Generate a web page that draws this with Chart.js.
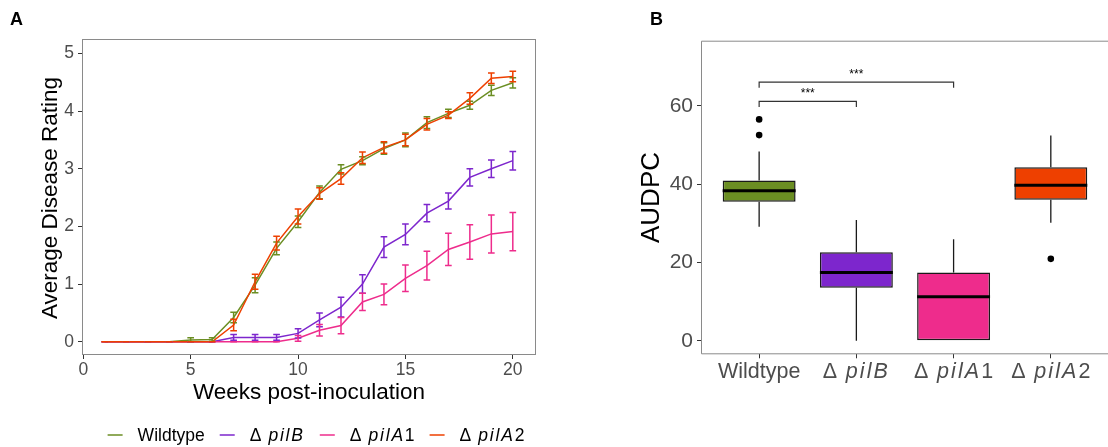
<!DOCTYPE html>
<html>
<head>
<meta charset="utf-8">
<script src="https://cdn.jsdelivr.net/npm/chart.js@4.4.0/dist/chart.umd.min.js"></script>
<style>
  body { margin: 0; background: #fff; width: 1108px; height: 447px; overflow: hidden; position: relative; }
  #wrapA { position: absolute; left: 0; top: 0; width: 560px; height: 447px; }
  #wrapB { position: absolute; left: 620px; top: 0; width: 488px; height: 447px; }
</style>
</head>
<body>
<div id="wrapA"><canvas id="chartA"></canvas></div>
<div id="wrapB"><canvas id="chartB"></canvas></div>
<script>
const FONT = '"Liberation Sans", Arial, Helvetica, sans-serif';

// ---- Panel A data: weekly mean disease rating +/- SE ----
const weeks = [1, 2, 3, 4, 5, 6, 7, 8, 9, 10, 11, 12, 13, 14, 15, 16, 17, 18, 19, 20];
const seriesNames = ['Wildtype', 'ΔpilB', 'ΔpilA1', 'ΔpilA2'];
const seriesColors = ['#6B8E23', '#7D26CD', '#EE2C8C', '#EE4000'];

const wildtypeMean = [0, 0, 0, 0, 0.03, 0.04, 0.42, 0.98, 1.62, 2.08, 2.59, 2.99, 3.14, 3.35, 3.50, 3.80, 3.96, 4.10, 4.36, 4.49];
const wildtypeSe   = [0, 0, 0, 0, 0.04, 0.03, 0.09, 0.13, 0.11, 0.10, 0.11, 0.08, 0.07, 0.10, 0.12, 0.10, 0.07, 0.07, 0.09, 0.09];
const pilBMean     = [0, 0, 0, 0, 0, 0, 0.075, 0.075, 0.075, 0.145, 0.38, 0.60, 1.00, 1.64, 1.86, 2.23, 2.44, 2.85, 3.00, 3.14];
const pilBSe       = [0, 0, 0, 0, 0, 0, 0.05, 0.05, 0.05, 0.08, 0.12, 0.17, 0.16, 0.18, 0.18, 0.15, 0.14, 0.15, 0.15, 0.16];
const pilA1Mean    = [0, 0, 0, 0, 0, 0, 0, 0, 0, 0.06, 0.20, 0.28, 0.69, 0.82, 1.10, 1.32, 1.60, 1.73, 1.87, 1.91];
const pilA1Se      = [0, 0, 0, 0, 0, 0, 0, 0, 0, 0.05, 0.10, 0.14, 0.15, 0.18, 0.23, 0.25, 0.28, 0.30, 0.33, 0.33];
const pilA2Mean    = [0, 0, 0, 0, 0, 0, 0.29, 1.04, 1.71, 2.17, 2.57, 2.83, 3.19, 3.37, 3.50, 3.77, 3.93, 4.22, 4.57, 4.60];
const pilA2Se      = [0, 0, 0, 0, 0, 0, 0.10, 0.13, 0.12, 0.13, 0.10, 0.10, 0.10, 0.10, 0.10, 0.10, 0.06, 0.10, 0.09, 0.09];

const xTicksA = [0, 5, 10, 15, 20];
const yTicksA = [0, 1, 2, 3, 4, 5];

// ---- Panel B data: AUDPC box plot summary ----
const boxLow      = [29.1, 0, 0, 30.1];
const boxQ1       = [35.5, 13.5, 0, 36.0];
const boxMedian   = [38.3, 17.4, 11.2, 39.7];
const boxQ3       = [40.9, 22.6, 17.4, 44.3];
const boxHigh     = [48.3, 30.8, 25.9, 52.4];
const boxOutliers = [[56.5, 52.5], [], [], [20.9]];
const yTicksB = [0, 20, 40, 60];

// significance brackets (group positions are 1-based)
const bracketFrom   = [1, 1];
const bracketTo     = [2, 3];
const bracketY      = [61.1, 66.0];
const bracketLabels = ['***', '***'];

const meansA = [wildtypeMean, pilBMean, pilA1Mean, pilA2Mean];
const seA = [wildtypeSe, pilBSe, pilA1Se, pilA2Se];

// split "ΔpilA1" into upright delta, italic gene name, upright number
function labelParts(name) {
  if (name[0] !== 'Δ') return [[name, false]];
  const m = name.slice(1).match(/^([A-Za-z]+)(\d*)$/);
  const parts = [['Δ', false], [' ', 'gap'], [m[1], true]];
  if (m[2]) parts.push([m[2], false]);
  return parts;
}

function setPartFont(ctx, part, size) {
  ctx.font = (part[1] === true ? 'italic ' : '') + size + 'px ' + FONT;
  ctx.letterSpacing = part[1] === true ? (size * 0.1).toFixed(1) + 'px' : '0px';
}

function partWidth(ctx, part, size) {
  if (part[1] === 'gap') return size * 0.4;
  setPartFont(ctx, part, size);
  return ctx.measureText(part[0]).width;
}

function richWidth(ctx, parts, size) {
  return parts.reduce((s, p) => s + partWidth(ctx, p, size), 0);
}

function drawRich(ctx, parts, x, y, size, align) {
  const total = richWidth(ctx, parts, size);
  let cx = align === 'center' ? x - total / 2 : x;
  ctx.textAlign = 'left';
  parts.forEach(p => {
    const w = partWidth(ctx, p, size);
    if (p[1] !== 'gap') {
      setPartFont(ctx, p, size);
      ctx.fillText(p[0], cx, y);
    }
    cx += w;
  });
  ctx.letterSpacing = '0px';
  return total;
}

// Panel A extras: error bars, frame, titles, legend
const panelAPlugin = {
  id: 'panelA',
  afterDatasetsDraw(chart) {
    const ctx = chart.ctx;
    const xs = chart.scales.x, ys = chart.scales.y;
    const capHalf = 0.155;
    ctx.save();
    ctx.lineWidth = 1.5;
    seriesNames.forEach((name, i) => {
      ctx.strokeStyle = seriesColors[i];
      weeks.forEach((w, j) => {
        const m = meansA[i][j], e = seA[i][j];
        const x = xs.getPixelForValue(w);
        const x0 = xs.getPixelForValue(w - capHalf), x1 = xs.getPixelForValue(w + capHalf);
        const yLo = ys.getPixelForValue(m - e), yHi = ys.getPixelForValue(m + e);
        ctx.beginPath();
        ctx.moveTo(x, yLo); ctx.lineTo(x, yHi);
        ctx.moveTo(x0, yLo); ctx.lineTo(x1, yLo);
        ctx.moveTo(x0, yHi); ctx.lineTo(x1, yHi);
        ctx.stroke();
      });
    });
    ctx.restore();
  },
  afterDraw(chart) {
    const ctx = chart.ctx;
    const a = chart.chartArea;
    ctx.save();
    // panel border
    ctx.strokeStyle = '#8a8a8a';
    ctx.lineWidth = 1;
    ctx.strokeRect(a.left + 0.5, a.top + 0.5, a.right - a.left - 1, a.bottom - a.top - 1);

    ctx.fillStyle = '#000';
    // panel tag
    ctx.font = 'bold 18px ' + FONT;
    ctx.textAlign = 'left';
    ctx.textBaseline = 'alphabetic';
    ctx.fillText('A', 10, 25);

    // axis titles
    ctx.font = '22.5px ' + FONT;
    ctx.textAlign = 'center';
    ctx.fillText('Weeks post-inoculation', (a.left + a.right) / 2, 399);
    ctx.save();
    ctx.translate(57, (a.top + a.bottom) / 2 + 1);
    ctx.rotate(-Math.PI / 2);
    ctx.fillText('Average Disease Rating', 0, 0);
    ctx.restore();

    // legend
    const size = 17.5, swatch = 15, gap = 15;
    const items = seriesNames.map(n => labelParts(n));
    const widths = items.map(p => richWidth(ctx, p, size));
    const total = widths.reduce((s, w) => s + swatch + gap + w, 0) + gap * (items.length - 1);
    let lx = 316 - total / 2;
    const ly = 435;
    ctx.textBaseline = 'middle';
    items.forEach((parts, i) => {
      ctx.strokeStyle = seriesColors[i];
      ctx.lineWidth = 1.5;
      ctx.beginPath();
      ctx.moveTo(lx, ly); ctx.lineTo(lx + swatch, ly);
      ctx.stroke();
      ctx.fillStyle = '#000';
      drawRich(ctx, parts, lx + swatch + gap, ly + 1, size, 'left');
      lx += swatch + gap + widths[i] + gap;
    });
    ctx.restore();
  }
};

Chart.defaults.font.family = FONT;

new Chart(document.getElementById('chartA'), {
  type: 'line',
  data: {
    datasets: seriesNames.map((name, i) => ({
      label: name,
      data: weeks.map((w, j) => ({ x: w, y: meansA[i][j] })),
      borderColor: seriesColors[i],
      backgroundColor: seriesColors[i],
      borderWidth: 1.5,
      pointRadius: 0,
      tension: 0,
      order: seriesNames.length - i
    }))
  },
  options: {
    responsive: true,
    maintainAspectRatio: false,
    animation: false,
    layout: { padding: { left: 0, top: 39, right: 24, bottom: 0 } },
    plugins: { legend: { display: false }, tooltip: { enabled: false } },
    scales: {
      x: {
        type: 'linear',
        min: -0.06,
        max: 21.08,
        afterBuildTicks: s => { s.ticks = xTicksA.map(v => ({ value: v })); },
        afterFit: s => { s.height = 92; },
        border: { display: false },
        grid: { drawOnChartArea: false, tickLength: 4, color: '#333' },
        ticks: { color: '#4D4D4D', font: { size: 17.5 }, padding: 1, maxRotation: 0 }
      },
      y: {
        type: 'linear',
        min: -0.23,
        max: 5.25,
        afterBuildTicks: s => { s.ticks = yTicksA.map(v => ({ value: v })); },
        afterFit: s => { s.width = 82; },
        border: { display: false },
        grid: { drawOnChartArea: false, tickLength: 4, color: '#333' },
        ticks: { color: '#4D4D4D', font: { size: 17.5 }, padding: 4 }
      }
    }
  },
  plugins: [panelAPlugin]
});

// Panel B extras: whiskers, medians, brackets, labels
const panelBPlugin = {
  id: 'panelB',
  beforeDatasetsDraw(chart) {
    const ctx = chart.ctx;
    const xs = chart.scales.x, ys = chart.scales.y;
    ctx.save();
    ctx.strokeStyle = '#1a1a1a';
    ctx.lineWidth = 1.3;
    boxLow.forEach((lo, i) => {
      const x = xs.getPixelForValue(i + 1);
      ctx.beginPath();
      ctx.moveTo(x, ys.getPixelForValue(lo)); ctx.lineTo(x, ys.getPixelForValue(boxQ1[i]));
      ctx.moveTo(x, ys.getPixelForValue(boxQ3[i])); ctx.lineTo(x, ys.getPixelForValue(boxHigh[i]));
      ctx.stroke();
    });
    ctx.restore();
  },
  afterDatasetsDraw(chart) {
    const ctx = chart.ctx;
    const xs = chart.scales.x, ys = chart.scales.y;
    const bars = chart.getDatasetMeta(0).data;
    ctx.save();
    ctx.strokeStyle = '#000';
    ctx.lineWidth = 3;
    boxMedian.forEach((m, i) => {
      const b = bars[i];
      const y = ys.getPixelForValue(m);
      ctx.beginPath();
      ctx.moveTo(b.x - b.width / 2, y); ctx.lineTo(b.x + b.width / 2, y);
      ctx.stroke();
    });
    // significance brackets
    ctx.strokeStyle = '#333';
    ctx.lineWidth = 1.2;
    ctx.fillStyle = '#000';
    ctx.font = '12px ' + FONT;
    ctx.textAlign = 'center';
    ctx.textBaseline = 'alphabetic';
    bracketY.forEach((yv, k) => {
      const x0 = xs.getPixelForValue(bracketFrom[k]), x1 = xs.getPixelForValue(bracketTo[k]);
      const y = ys.getPixelForValue(yv), yTip = ys.getPixelForValue(yv - 1.4);
      ctx.beginPath();
      ctx.moveTo(x0, yTip); ctx.lineTo(x0, y); ctx.lineTo(x1, y); ctx.lineTo(x1, yTip);
      ctx.stroke();
      ctx.fillText(bracketLabels[k], (x0 + x1) / 2, y - 4);
    });
    ctx.restore();
  },
  afterDraw(chart) {
    const ctx = chart.ctx;
    const a = chart.chartArea;
    const xs = chart.scales.x;
    ctx.save();
    // frame (right edge falls outside the picture)
    ctx.strokeStyle = '#8a8a8a';
    ctx.lineWidth = 1;
    ctx.beginPath();
    ctx.moveTo(chart.width, a.top + 0.5);
    ctx.lineTo(a.left + 0.5, a.top + 0.5);
    ctx.lineTo(a.left + 0.5, a.bottom - 0.5);
    ctx.lineTo(chart.width, a.bottom - 0.5);
    ctx.stroke();

    // category labels
    ctx.fillStyle = '#4D4D4D';
    ctx.textBaseline = 'top';
    seriesNames.forEach((name, i) => {
      drawRich(ctx, labelParts(name), xs.getPixelForValue(i + 1), a.bottom + 7, 21.5, 'center');
    });

    ctx.fillStyle = '#000';
    ctx.font = 'bold 18px ' + FONT;
    ctx.textAlign = 'left';
    ctx.textBaseline = 'alphabetic';
    ctx.fillText('B', 30, 25);

    ctx.font = '26px ' + FONT;
    ctx.textAlign = 'center';
    ctx.textBaseline = 'middle';
    ctx.translate(32, (a.top + a.bottom) / 2);
    ctx.rotate(-Math.PI / 2);
    ctx.fillText('AUDPC', 0, 0);
    ctx.restore();
  }
};

const outlierPoints = [];
boxOutliers.forEach((list, i) => list.forEach(v => outlierPoints.push({ x: i + 1, y: v })));

new Chart(document.getElementById('chartB'), {
  type: 'bar',
  data: {
    datasets: [
      {
        type: 'bar',
        data: boxQ1.map((q, i) => ({ x: i + 1, y: [q, boxQ3[i]] })),
        backgroundColor: seriesColors,
        borderColor: '#1a1a1a',
        borderWidth: 1.5,
        borderSkipped: false,
        barPercentage: 0.75,
        categoryPercentage: 1,
        order: 2
      },
      {
        type: 'scatter',
        data: outlierPoints,
        pointRadius: 3.3,
        backgroundColor: '#000',
        borderWidth: 0,
        order: 1
      }
    ]
  },
  options: {
    responsive: true,
    maintainAspectRatio: false,
    animation: false,
    layout: { padding: { left: 0, top: 40.7, right: 0, bottom: 0 } },
    plugins: { legend: { display: false }, tooltip: { enabled: false } },
    scales: {
      x: {
        type: 'linear',
        min: 0.402,
        max: 4.547,
        offset: false,
        afterBuildTicks: s => { s.ticks = seriesNames.map((n, i) => ({ value: i + 1 })); },
        afterFit: s => { s.height = 92.7; },
        border: { display: false },
        grid: { drawOnChartArea: false, offset: false, tickLength: 4, color: '#333' },
        ticks: { display: false }
      },
      y: {
        type: 'linear',
        min: -3.47,
        max: 76.6,
        beginAtZero: false,
        afterBuildTicks: s => { s.ticks = yTicksB.map(v => ({ value: v })); },
        afterFit: s => { s.width = 81; },
        border: { display: false },
        grid: { drawOnChartArea: false, tickLength: 4, color: '#333' },
        ticks: { color: '#4D4D4D', font: { size: 21 }, padding: 4 }
      }
    }
  },
  plugins: [panelBPlugin]
});
</script>
</body>
</html>
